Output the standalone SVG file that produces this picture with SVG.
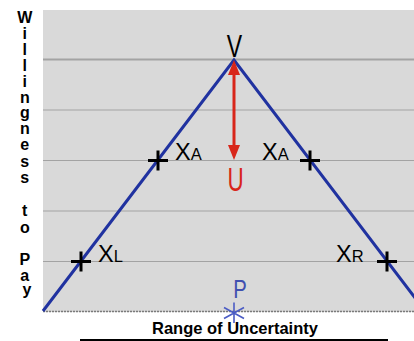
<svg xmlns="http://www.w3.org/2000/svg" width="414" height="341" viewBox="0 0 414 341">
<defs>
<style>
.grid{stroke:#a3a3a3;stroke-width:1.2;fill:none}
.cross{stroke:#000;stroke-width:3;fill:none}
.lbl{font-family:"Liberation Sans",Arial,sans-serif;fill:#000}
.big{font-size:23.5px}
.sub{font-size:16.5px}
.axis{font-family:"Liberation Sans",Arial,sans-serif;font-weight:bold;font-size:16px;fill:#000;text-anchor:middle}
</style>
<marker id="ah" viewBox="0 0 15 12" refX="9" refY="6" markerWidth="15" markerHeight="12" markerUnits="userSpaceOnUse" orient="auto-start-reverse">
<path d="M0,0 L15,6 L0,12 z" fill="#d8261a"/>
</marker>
</defs>
<rect width="414" height="341" fill="#fff"/>
<g id="plot">
<rect x="43" y="10" width="371" height="302" fill="#d9d9d9"/>
<line class="grid" x1="43" y1="59.5" x2="414" y2="59.5" style="stroke-width:2"/>
<line class="grid" x1="43" y1="110" x2="414" y2="110"/>
<line class="grid" x1="43" y1="160.5" x2="414" y2="160.5"/>
<line class="grid" x1="43" y1="211" x2="414" y2="211"/>
<line class="grid" x1="43" y1="261.5" x2="414" y2="261.5"/>
<line x1="43" y1="311.5" x2="414" y2="311.5" stroke="#7a7a7a" stroke-width="1.5" stroke-dasharray="2 1"/>
</g>
<g id="connectors">
<polyline points="43,311 234,60 425,311" fill="none" stroke="#2032a0" stroke-width="3" stroke-linejoin="miter"/>
<line x1="234" y1="66" x2="234" y2="154" stroke="#d8261a" stroke-width="3" marker-start="url(#ah)" marker-end="url(#ah)"/>
</g>
<g id="xl">
<path class="cross" d="M71,261.5 H91 M81,251.5 V271.5"/>
<text class="lbl" x="98" y="262"><tspan class="big">X</tspan><tspan class="sub">L</tspan></text>
</g>
<g id="xa-left">
<path class="cross" d="M148,160.5 H168 M158,150.5 V170.5"/>
<text class="lbl" x="175" y="160"><tspan class="big">X</tspan><tspan class="sub">A</tspan></text>
</g>
<g id="xa-right">
<path class="cross" d="M300,160.5 H320 M310,150.5 V170.5"/>
<text class="lbl" x="262" y="160"><tspan class="big">X</tspan><tspan class="sub">A</tspan></text>
</g>
<g id="xr">
<path class="cross" d="M377,261.5 H397 M387,251.5 V271.5"/>
<text class="lbl" x="336" y="262"><tspan class="big">X</tspan><tspan class="sub">R</tspan></text>
</g>
<g id="v">
<text class="lbl" transform="translate(234.5,57) scale(0.72,1)" font-size="32" text-anchor="middle">V</text>
</g>
<g id="u">
<text transform="translate(235.5,191) scale(0.68,1)" font-family="Liberation Sans, Arial, sans-serif" font-size="33" fill="#d8261a" text-anchor="middle">U</text>
</g>
<g id="p">
<text transform="translate(240,298) scale(0.78,1)" font-family="Liberation Sans, Arial, sans-serif" font-size="26" fill="#4050b0" text-anchor="middle">P</text>
<path d="M234,302.5 V323 M224,307.5 L244,318.5 M224,318.5 L244,307.5" stroke="#4b5cc4" stroke-width="1.6" fill="none"/>
</g>
<g id="y-axis-label">
<text class="axis">
<tspan x="27" y="23">W</tspan>
<tspan x="27" y="39">i</tspan>
<tspan x="27" y="55">l</tspan>
<tspan x="27" y="71">l</tspan>
<tspan x="27" y="87">i</tspan>
<tspan x="27" y="103">n</tspan>
<tspan x="27" y="118">g</tspan>
<tspan x="27" y="134">n</tspan>
<tspan x="27" y="150">e</tspan>
<tspan x="27" y="167">s</tspan>
<tspan x="27" y="183">s</tspan>
<tspan x="27" y="216">t</tspan>
<tspan x="27" y="233">o</tspan>
<tspan x="27" y="265">P</tspan>
<tspan x="27" y="281">a</tspan>
<tspan x="27" y="295">y</tspan>
</text>
</g>
<g id="x-axis-label">
<text x="235" y="334" font-family="Liberation Sans, Arial, sans-serif" font-weight="bold" font-size="16.5" text-anchor="middle">Range of Uncertainty</text>
<line x1="80" y1="340" x2="388" y2="340" stroke="#000" stroke-width="2"/>
</g>
</svg>
